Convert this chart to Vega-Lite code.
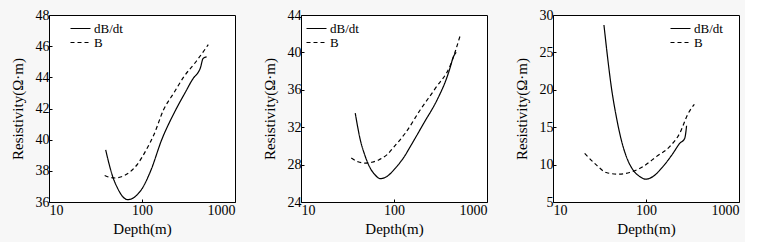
{
  "$schema": "https://vega.github.io/schema/vega-lite/v6.json",
  "background": "#f7f7f7",
  "padding": {"left": 9, "top": 7, "right": 5, "bottom": 5},
  "spacing": 25,
  "config": {
    "view": {"stroke": "black", "strokeWidth": 1, "fill": "white"},
    "font": "Liberation Serif",
    "style": {"guide-title": {"fontWeight": "normal"}},
    "axis": {
      "grid": false, "domain": false, "ticks": true, "tickSize": -3, "tickColor": "black",
      "labelFont": "Liberation Serif", "labelFontSize": 14, "labelColor": "black",
      "titleFont": "Liberation Serif", "titleFontSize": 15, "titleFontWeight": "normal", "titleColor": "black",
      "labelPadding": 3
    },
    "axisY": {"titlePadding": 10, "labelFlush": false, "titleFontWeight": "normal"},
    "axisX": {"titlePadding": 4, "labelPadding": 4, "titleFontWeight": "normal"},
    "legend": {
      "symbolType": "M-2,0H2", "symbolStrokeColor": "black", "symbolStrokeWidth": 1.2, "symbolSize": 100,
      "symbolFillColor": "transparent",
      "labelFont": "Liberation Serif", "labelFontSize": 13, "labelColor": "black",
      "padding": 0, "rowPadding": 0, "labelOffset": 7, "title": null
    },
    "line": {"color": "black", "strokeWidth": 1.2, "interpolate": "monotone"}
  },
  "resolve": {"scale": {"strokeDash": "independent", "x": "independent", "y": "independent"}, "legend": {"strokeDash": "independent"}},
  "datasets": {
    "p1": [
      {"depth": 40.7, "res": 39.35, "series": "dB/dt"},
      {"depth": 44, "res": 38.5, "series": "dB/dt"},
      {"depth": 48, "res": 37.7, "series": "dB/dt"},
      {"depth": 55, "res": 36.85, "series": "dB/dt"},
      {"depth": 62, "res": 36.35, "series": "dB/dt"},
      {"depth": 70, "res": 36.15, "series": "dB/dt"},
      {"depth": 80, "res": 36.25, "series": "dB/dt"},
      {"depth": 90, "res": 36.5, "series": "dB/dt"},
      {"depth": 100, "res": 36.85, "series": "dB/dt"},
      {"depth": 124, "res": 38.0, "series": "dB/dt"},
      {"depth": 163, "res": 40.0, "series": "dB/dt"},
      {"depth": 221, "res": 41.7, "series": "dB/dt"},
      {"depth": 290, "res": 43.0, "series": "dB/dt"},
      {"depth": 362, "res": 44.0, "series": "dB/dt"},
      {"depth": 400, "res": 44.3, "series": "dB/dt"},
      {"depth": 424, "res": 44.6, "series": "dB/dt"},
      {"depth": 453, "res": 45.2, "series": "dB/dt"},
      {"depth": 495, "res": 45.32, "series": "dB/dt"},
      {"depth": 39.7, "res": 37.7, "series": "B"},
      {"depth": 45, "res": 37.58, "series": "B"},
      {"depth": 52, "res": 37.54, "series": "B"},
      {"depth": 60, "res": 37.62, "series": "B"},
      {"depth": 75, "res": 37.95, "series": "B"},
      {"depth": 90, "res": 38.45, "series": "B"},
      {"depth": 110, "res": 39.3, "series": "B"},
      {"depth": 135, "res": 40.35, "series": "B"},
      {"depth": 170, "res": 41.9, "series": "B"},
      {"depth": 220, "res": 43.0, "series": "B"},
      {"depth": 283, "res": 44.05, "series": "B"},
      {"depth": 380, "res": 45.0, "series": "B"},
      {"depth": 516, "res": 46.1, "series": "B"}
    ],
    "p2": [
      {"depth": 38.3, "res": 33.5, "series": "dB/dt"},
      {"depth": 43.4, "res": 30.65, "series": "dB/dt"},
      {"depth": 49, "res": 28.9, "series": "dB/dt"},
      {"depth": 55, "res": 27.7, "series": "dB/dt"},
      {"depth": 62, "res": 26.95, "series": "dB/dt"},
      {"depth": 71.3, "res": 26.5, "series": "dB/dt"},
      {"depth": 84, "res": 26.74, "series": "dB/dt"},
      {"depth": 103, "res": 27.6, "series": "dB/dt"},
      {"depth": 130, "res": 28.9, "series": "dB/dt"},
      {"depth": 150, "res": 29.94, "series": "dB/dt"},
      {"depth": 209, "res": 32.43, "series": "dB/dt"},
      {"depth": 291, "res": 34.93, "series": "dB/dt"},
      {"depth": 373, "res": 37.4, "series": "dB/dt"},
      {"depth": 405, "res": 38.5, "series": "dB/dt"},
      {"depth": 430, "res": 39.4, "series": "dB/dt"},
      {"depth": 467, "res": 40.0, "series": "dB/dt"},
      {"depth": 34.7, "res": 28.7, "series": "B"},
      {"depth": 41, "res": 28.3, "series": "B"},
      {"depth": 49, "res": 28.16, "series": "B"},
      {"depth": 58, "res": 28.25, "series": "B"},
      {"depth": 68.4, "res": 28.5, "series": "B"},
      {"depth": 85, "res": 29.1, "series": "B"},
      {"depth": 100, "res": 29.9, "series": "B"},
      {"depth": 132.5, "res": 31.37, "series": "B"},
      {"depth": 192, "res": 33.87, "series": "B"},
      {"depth": 279, "res": 36.17, "series": "B"},
      {"depth": 405, "res": 38.66, "series": "B"},
      {"depth": 511, "res": 41.7, "series": "B"}
    ],
    "p3": [
      {"depth": 35.3, "res": 28.67, "series": "dB/dt"},
      {"depth": 39, "res": 23.9, "series": "dB/dt"},
      {"depth": 42.4, "res": 20.35, "series": "dB/dt"},
      {"depth": 48, "res": 16.37, "series": "dB/dt"},
      {"depth": 54.3, "res": 13.27, "series": "dB/dt"},
      {"depth": 61.5, "res": 11.06, "series": "dB/dt"},
      {"depth": 72.5, "res": 9.29, "series": "dB/dt"},
      {"depth": 85.5, "res": 8.41, "series": "dB/dt"},
      {"depth": 99, "res": 8.05, "series": "dB/dt"},
      {"depth": 119, "res": 8.41, "series": "dB/dt"},
      {"depth": 152, "res": 9.73, "series": "dB/dt"},
      {"depth": 195, "res": 11.5, "series": "dB/dt"},
      {"depth": 230, "res": 12.83, "series": "dB/dt"},
      {"depth": 260.6, "res": 13.5, "series": "dB/dt"},
      {"depth": 268, "res": 14.3, "series": "dB/dt"},
      {"depth": 273, "res": 15.2, "series": "dB/dt"},
      {"depth": 21.9, "res": 11.5, "series": "B"},
      {"depth": 29.2, "res": 9.96, "series": "B"},
      {"depth": 37.4, "res": 8.94, "series": "B"},
      {"depth": 50, "res": 8.72, "series": "B"},
      {"depth": 66.7, "res": 8.94, "series": "B"},
      {"depth": 92.9, "res": 9.73, "series": "B"},
      {"depth": 129, "res": 11.06, "series": "B"},
      {"depth": 179.6, "res": 12.4, "series": "B"},
      {"depth": 230, "res": 14.16, "series": "B"},
      {"depth": 283, "res": 16.8, "series": "B"},
      {"depth": 331, "res": 18.05, "series": "B"}
    ]
  },
  "hconcat": [
    {
      "width": 186, "height": 187,
      "data": {"name": "p1"},
      "mark": {"type": "line"},
      "encoding": {
        "x": {"field": "depth", "type": "quantitative", "scale": {"type": "log", "domain": [10, 1000]}, "axis": {"values": [10, 100, 1000], "title": "Depth(m)", "format": "d"}},
        "y": {"field": "res", "type": "quantitative", "scale": {"domain": [36, 48], "nice": false, "zero": false}, "axis": {"values": [36, 38, 40, 42, 44, 46, 48], "title": "Resistivity(Ω·m)"}},
        "strokeDash": {"field": "series", "type": "nominal", "scale": {"domain": ["dB/dt", "B"], "range": [[1, 0], [4, 3]]}, "legend": {"orient": "none", "legendX": 25, "legendY": 7}}
      }
    },
    {
      "width": 186, "height": 187,
      "data": {"name": "p2"},
      "mark": {"type": "line"},
      "encoding": {
        "x": {"field": "depth", "type": "quantitative", "scale": {"type": "log", "domain": [10, 1000]}, "axis": {"values": [10, 100, 1000], "title": "Depth(m)", "format": "d"}},
        "y": {"field": "res", "type": "quantitative", "scale": {"domain": [24, 44], "nice": false, "zero": false}, "axis": {"values": [24, 28, 32, 36, 40, 44], "title": "Resistivity(Ω·m)"}},
        "strokeDash": {"field": "series", "type": "nominal", "scale": {"domain": ["dB/dt", "B"], "range": [[1, 0], [4, 3]]}, "legend": {"orient": "none", "legendX": 9, "legendY": 7}}
      }
    },
    {
      "width": 186, "height": 187,
      "data": {"name": "p3"},
      "mark": {"type": "line"},
      "encoding": {
        "x": {"field": "depth", "type": "quantitative", "scale": {"type": "log", "domain": [10, 1000]}, "axis": {"values": [10, 100, 1000], "title": "Depth(m)", "format": "d"}},
        "y": {"field": "res", "type": "quantitative", "scale": {"domain": [5, 30], "nice": false, "zero": false}, "axis": {"values": [5, 10, 15, 20, 25, 30], "title": "Resistivity(Ω·m)"}},
        "strokeDash": {"field": "series", "type": "nominal", "scale": {"domain": ["dB/dt", "B"], "range": [[1, 0], [4, 3]]}, "legend": {"orient": "none", "legendX": 121, "legendY": 7}}
      }
    }
  ]
}
